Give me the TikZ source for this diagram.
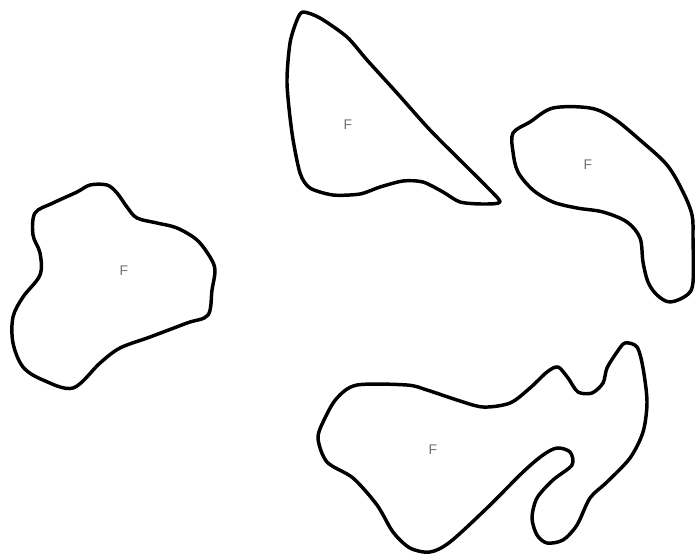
\documentclass[tikz,border=0pt]{standalone}
\usepackage{fontspec}
\setsansfont{Liberation Sans}
\begin{document}
\begin{tikzpicture}[x=0.75pt,y=-0.75pt,
  blob/.style={draw=black,line width=2.6pt,line join=round},
  flabel/.style={font=\sffamily\fontsize{10.5}{12}\selectfont,text=black!55}]
\useasboundingbox (0,0) rectangle (695,554);
% left blob
\draw[blob] plot[smooth cycle,tension=0.55] coordinates {(90,185) (107,185) (117,193) (127,207) (137,218) (157,223) (177,228) (197,240) (210,257) (215,270) (212,290) (208,315) (187,323) (150,337) (120,348) (100,363) (73,388) (43,380) (23,367) (13,343) (13,317) (23,297) (40,275) (40,253) (33,235) (35,213) (53,203) (77,192)};
\node[flabel] (f1) at (124,271) {F};
% triangle
\draw[blob] plot[smooth cycle,tension=0.45] coordinates {(303,12) (320,18) (347,37) (367,60) (397,93) (430,130) (467,167) (487,187) (500,202) (483,204) (460,202) (443,192) (423,182) (403,181) (380,187) (360,194) (333,195) (310,188) (300,173) (292,133) (287,83) (290,43) (297,20)};
\node[flabel] (f2) at (348,125) {F};
% comma
\draw[blob] plot[smooth cycle,tension=0.55] coordinates {(513,133) (530,122) (553,108) (590,108) (613,118) (640,140) (667,165) (683,192) (692,215) (693,238) (693,282) (687,295) (670,302) (657,295) (648,282) (643,262) (640,238) (627,222) (603,212) (577,208) (553,202) (533,190) (518,172) (513,152)};
\node[flabel] (f3) at (588,165) {F};
% bottom shape
\draw[blob] plot[smooth cycle,tension=0.5] coordinates {(318,438) (325,418) (337,398) (357,385) (407,385) (427,390) (457,400) (483,407) (510,403) (530,388) (547,372) (558,367) (568,378) (578,392) (592,393) (603,383) (607,368) (617,352) (625,343) (637,347) (643,368) (647,402) (643,432) (630,458) (607,482) (590,498) (577,525) (563,540) (547,543) (537,535) (532,518) (537,498) (553,480) (572,465) (570,452) (557,448) (543,455) (523,472) (487,508) (450,542) (430,552) (410,548) (393,532) (377,505) (353,478) (327,462)};
\node[flabel] (f4) at (433,450) {F};
\end{tikzpicture}
\end{document}
